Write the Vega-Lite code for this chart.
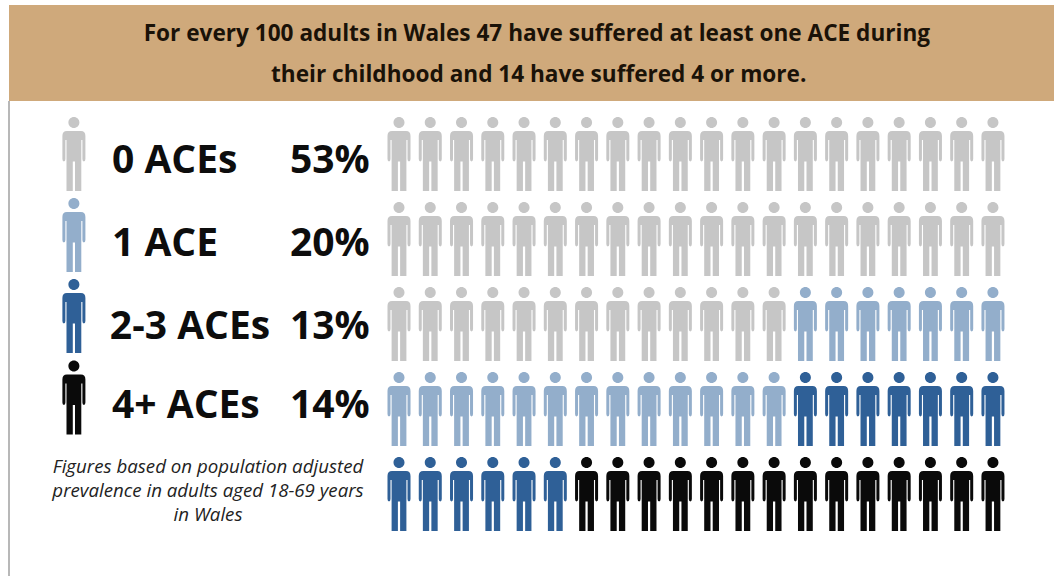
{"$schema":"https://vega.github.io/schema/vega-lite/v6.json","width":1054,"height":576,"padding":0,"autosize":{"type":"none"},"background":"#ffffff","config":{"view":{"stroke":null}},
"datasets":{"people":[
{"col":1,"row":1,"cat":"0 ACEs"},{"col":2,"row":1,"cat":"0 ACEs"},{"col":3,"row":1,"cat":"0 ACEs"},{"col":4,"row":1,"cat":"0 ACEs"},{"col":5,"row":1,"cat":"0 ACEs"},{"col":6,"row":1,"cat":"0 ACEs"},{"col":7,"row":1,"cat":"0 ACEs"},{"col":8,"row":1,"cat":"0 ACEs"},{"col":9,"row":1,"cat":"0 ACEs"},{"col":10,"row":1,"cat":"0 ACEs"},{"col":11,"row":1,"cat":"0 ACEs"},{"col":12,"row":1,"cat":"0 ACEs"},{"col":13,"row":1,"cat":"0 ACEs"},{"col":14,"row":1,"cat":"0 ACEs"},{"col":15,"row":1,"cat":"0 ACEs"},{"col":16,"row":1,"cat":"0 ACEs"},{"col":17,"row":1,"cat":"0 ACEs"},{"col":18,"row":1,"cat":"0 ACEs"},{"col":19,"row":1,"cat":"0 ACEs"},{"col":20,"row":1,"cat":"0 ACEs"},
{"col":1,"row":2,"cat":"0 ACEs"},{"col":2,"row":2,"cat":"0 ACEs"},{"col":3,"row":2,"cat":"0 ACEs"},{"col":4,"row":2,"cat":"0 ACEs"},{"col":5,"row":2,"cat":"0 ACEs"},{"col":6,"row":2,"cat":"0 ACEs"},{"col":7,"row":2,"cat":"0 ACEs"},{"col":8,"row":2,"cat":"0 ACEs"},{"col":9,"row":2,"cat":"0 ACEs"},{"col":10,"row":2,"cat":"0 ACEs"},{"col":11,"row":2,"cat":"0 ACEs"},{"col":12,"row":2,"cat":"0 ACEs"},{"col":13,"row":2,"cat":"0 ACEs"},{"col":14,"row":2,"cat":"0 ACEs"},{"col":15,"row":2,"cat":"0 ACEs"},{"col":16,"row":2,"cat":"0 ACEs"},{"col":17,"row":2,"cat":"0 ACEs"},{"col":18,"row":2,"cat":"0 ACEs"},{"col":19,"row":2,"cat":"0 ACEs"},{"col":20,"row":2,"cat":"0 ACEs"},
{"col":1,"row":3,"cat":"0 ACEs"},{"col":2,"row":3,"cat":"0 ACEs"},{"col":3,"row":3,"cat":"0 ACEs"},{"col":4,"row":3,"cat":"0 ACEs"},{"col":5,"row":3,"cat":"0 ACEs"},{"col":6,"row":3,"cat":"0 ACEs"},{"col":7,"row":3,"cat":"0 ACEs"},{"col":8,"row":3,"cat":"0 ACEs"},{"col":9,"row":3,"cat":"0 ACEs"},{"col":10,"row":3,"cat":"0 ACEs"},{"col":11,"row":3,"cat":"0 ACEs"},{"col":12,"row":3,"cat":"0 ACEs"},{"col":13,"row":3,"cat":"0 ACEs"},{"col":14,"row":3,"cat":"1 ACE"},{"col":15,"row":3,"cat":"1 ACE"},{"col":16,"row":3,"cat":"1 ACE"},{"col":17,"row":3,"cat":"1 ACE"},{"col":18,"row":3,"cat":"1 ACE"},{"col":19,"row":3,"cat":"1 ACE"},{"col":20,"row":3,"cat":"1 ACE"},
{"col":1,"row":4,"cat":"1 ACE"},{"col":2,"row":4,"cat":"1 ACE"},{"col":3,"row":4,"cat":"1 ACE"},{"col":4,"row":4,"cat":"1 ACE"},{"col":5,"row":4,"cat":"1 ACE"},{"col":6,"row":4,"cat":"1 ACE"},{"col":7,"row":4,"cat":"1 ACE"},{"col":8,"row":4,"cat":"1 ACE"},{"col":9,"row":4,"cat":"1 ACE"},{"col":10,"row":4,"cat":"1 ACE"},{"col":11,"row":4,"cat":"1 ACE"},{"col":12,"row":4,"cat":"1 ACE"},{"col":13,"row":4,"cat":"1 ACE"},{"col":14,"row":4,"cat":"2-3 ACEs"},{"col":15,"row":4,"cat":"2-3 ACEs"},{"col":16,"row":4,"cat":"2-3 ACEs"},{"col":17,"row":4,"cat":"2-3 ACEs"},{"col":18,"row":4,"cat":"2-3 ACEs"},{"col":19,"row":4,"cat":"2-3 ACEs"},{"col":20,"row":4,"cat":"2-3 ACEs"},
{"col":1,"row":5,"cat":"2-3 ACEs"},{"col":2,"row":5,"cat":"2-3 ACEs"},{"col":3,"row":5,"cat":"2-3 ACEs"},{"col":4,"row":5,"cat":"2-3 ACEs"},{"col":5,"row":5,"cat":"2-3 ACEs"},{"col":6,"row":5,"cat":"2-3 ACEs"},{"col":7,"row":5,"cat":"4+ ACEs"},{"col":8,"row":5,"cat":"4+ ACEs"},{"col":9,"row":5,"cat":"4+ ACEs"},{"col":10,"row":5,"cat":"4+ ACEs"},{"col":11,"row":5,"cat":"4+ ACEs"},{"col":12,"row":5,"cat":"4+ ACEs"},{"col":13,"row":5,"cat":"4+ ACEs"},{"col":14,"row":5,"cat":"4+ ACEs"},{"col":15,"row":5,"cat":"4+ ACEs"},{"col":16,"row":5,"cat":"4+ ACEs"},{"col":17,"row":5,"cat":"4+ ACEs"},{"col":18,"row":5,"cat":"4+ ACEs"},{"col":19,"row":5,"cat":"4+ ACEs"},{"col":20,"row":5,"cat":"4+ ACEs"}
]},
"encoding":{
"x":{"field":"col","type":"quantitative","axis":null,"scale":{"domain":[-11.764,21.953],"range":[0,1054],"nice":false,"zero":false}},
"y":{"field":"row","type":"quantitative","axis":null,"scale":{"domain":[-0.812,5.965],"range":[0,576],"nice":false,"zero":false}}},
"layer":[
{"data":{"values":[{"col":-11.476,"col2":21.953,"row":-0.753,"row2":0.376}]},"mark":{"type":"rect","color":"#CFA97B"},"encoding":{"x2":{"field":"col2"},"y2":{"field":"row2"}}},
{"data":{"values":[{"col":-11.476,"row":0.376,"row2":5.965}]},"mark":{"type":"rule","color":"#b8b8b8","strokeWidth":2},"encoding":{"y2":{"field":"row2"}}},
{"data":{"name":"people"},"mark":{"type":"point","filled":true,"opacity":1,"size":5476,"shape":"M -.19,-.622 L .19,-.622 Q .311,-.622 .311,-.486 L .311,.135 Q .311,.2 .27,.2 Q .23,.2 .23,.135 L .23,-.378 L .2,-.378 L .2,1 L .03,1 L .03,.2 L -.03,.2 L -.03,1 L -.2,1 L -.2,-.378 L -.23,-.378 L -.23,.135 Q -.23,.2 -.27,.2 Q -.311,.2 -.311,.135 L -.311,-.486 Q -.311,-.622 -.19,-.622 Z M -.149,-.851 A .149,.149 0 1 1 .149,-.851 A .149,.149 0 1 1 -.149,-.851 Z"},"encoding":{"color":{"field":"cat","type":"nominal","legend":null,"scale":{"domain":["0 ACEs","1 ACE","2-3 ACEs","4+ ACEs"],"range":["#C6C6C6","#93AECB","#2F6097","#0A0A0A"]}}}},
{"data":{"values":[{"col":-9.4,"row":1,"cat":"0 ACEs"},{"col":-9.4,"row":1.953,"cat":"1 ACE"},{"col":-9.4,"row":2.906,"cat":"2-3 ACEs"},{"col":-9.4,"row":3.865,"cat":"4+ ACEs"}]},"mark":{"type":"point","filled":true,"opacity":1,"size":5476,"shape":"M -.19,-.622 L .19,-.622 Q .311,-.622 .311,-.486 L .311,.135 Q .311,.2 .27,.2 Q .23,.2 .23,.135 L .23,-.378 L .2,-.378 L .2,1 L .03,1 L .03,.2 L -.03,.2 L -.03,1 L -.2,1 L -.2,-.378 L -.23,-.378 L -.23,.135 Q -.23,.2 -.27,.2 Q -.311,.2 -.311,.135 L -.311,-.486 Q -.311,-.622 -.19,-.622 Z M -.149,-.851 A .149,.149 0 1 1 .149,-.851 A .149,.149 0 1 1 -.149,-.851 Z"},"encoding":{"color":{"field":"cat","type":"nominal","legend":null}}},
{"data":{"values":[{"col":-8.18,"row":1.085,"label":"0 ACEs"},{"col":-8.18,"row":2.06,"label":"1 ACE"},{"col":-8.25,"row":3.035,"label":"2-3 ACEs"},{"col":-8.18,"row":3.965,"label":"4+ ACEs"}]},"mark":{"type":"text","align":"left","baseline":"middle","font":"Open Sans","fontWeight":700,"fontSize":39,"color":"#0d0d0d"},"encoding":{"text":{"field":"label"}}},
{"data":{"values":[{"col":0.06,"row":1.085,"label":"53%"},{"col":0.06,"row":2.06,"label":"20%"},{"col":0.06,"row":3.035,"label":"13%"},{"col":0.06,"row":3.965,"label":"14%"}]},"mark":{"type":"text","align":"right","baseline":"middle","font":"Open Sans","fontWeight":700,"fontSize":39,"color":"#0d0d0d"},"encoding":{"text":{"field":"label"}}},
{"data":{"values":[{"col":5.41,"row":-0.41,"label":"For every 100 adults in Wales 47 have suffered at least one ACE during"},{"col":5.47,"row":0.072,"label":"their childhood and 14  have suffered 4 or more."}]},"mark":{"type":"text","align":"center","baseline":"middle","font":"Open Sans","fontWeight":700,"fontSize":22.6,"color":"#1a1208"},"encoding":{"text":{"field":"label"}}},
{"data":{"values":[{"col":-5.11,"row":4.685,"label":"Figures based on population adjusted"},{"col":-5.11,"row":4.965,"label":"prevalence in adults aged 18-69 years"},{"col":-5.11,"row":5.245,"label":"in Wales"}]},"mark":{"type":"text","align":"center","baseline":"middle","font":"Open Sans","fontStyle":"italic","fontSize":18.7,"color":"#222222"},"encoding":{"text":{"field":"label"}}}
]}
